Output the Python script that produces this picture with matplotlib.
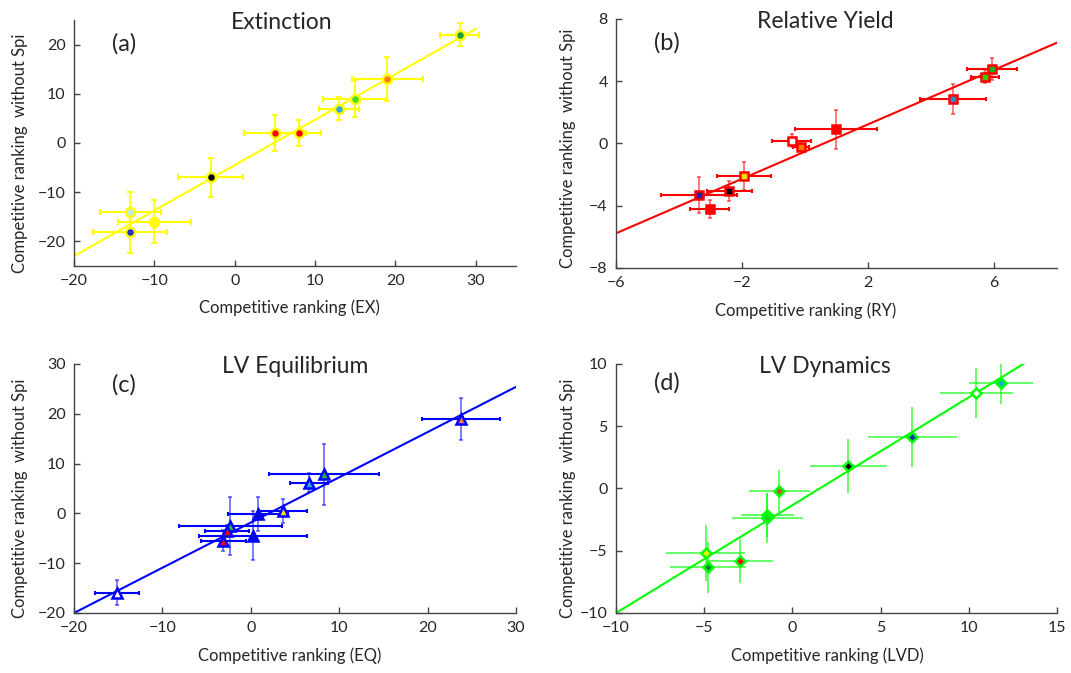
import numpy as np
import matplotlib
matplotlib.use("Agg")
import matplotlib.pyplot as plt

plt.rcParams["font.family"] = ["Lato", "DejaVu Sans"]

TEXT = "#262626"

# -----------------------
# (a) Extinction
# -----------------------
ex_x = [28, 19, 15, 13, 5, 8, -3, -13, -10, -13]
ex_y = [22, 13, 9, 7, 2, 2, -7, -14, -16, -18]
ex_xerr = [2.4, 4.4, 4.0, 2.5, 3.9, 2.7, 4.0, 3.8, 4.5, 4.6]
ex_yerr = [2.3, 4.4, 3.8, 2.4, 3.7, 2.7, 3.9, 4.0, 4.4, 4.3]
ex_species = ["#1a9e3a", "#ff7f00", "#44dd22", "#33aadd", "#ff0000",
              "#ff0000", "#000000", "#bbeedd", "#ffff00", "#2233cc"]
ex_fit = (0.924, -4.5, -20, 30)   # slope, intercept, x from, x to

# -----------------------
# (b) Relative Yield
# -----------------------
ry_x = [5.93, 5.71, 4.69, 0.98, -0.42, -0.13, -1.93, -2.40, -3.36, -3.02]
ry_y = [4.79, 4.29, 2.84, 0.91, 0.18, -0.20, -2.09, -3.05, -3.31, -4.21]
ry_xerr = [0.80, 0.45, 1.04, 1.30, 0.62, 0.25, 0.86, 0.72, 1.20, 0.62]
ry_yerr = [0.70, 0.40, 0.97, 1.25, 0.40, 0.20, 0.88, 0.65, 1.18, 0.60]
ry_species = ["#22aa22", "#33cc00", "#3388cc", "#ff0000", "#ffffff",
              "#ff7700", "#ffdd00", "#000000", "#2222aa", "#ff0000"]
ry_fit = (0.875, -0.52, -6, 8)

# -----------------------
# (c) LV Equilibrium
# -----------------------
eq_x = [23.78, 8.28, 6.58, 3.61, 0.85, -2.3, -2.7, 0.28, -3.1, -15.17]
eq_y = [18.9, 7.85, 6.17, 0.48, -0.2, -2.6, -3.6, -4.5, -5.5, -15.92]
eq_xerr = [4.4, 6.2, 2.2, 2.7, 3.4, 5.8, 2.5, 6.1, 2.55, 2.5]
eq_yerr = [4.2, 6.1, 1.85, 2.5, 3.4, 5.8, 1.2, 4.9, 2.15, 2.5]
eq_species = ["#ee7755", "#22bb22", "#22aaee", "#ffdd00", "#0000cc",
              "#22cc22", "#ff0000", "#0000ff", "#ff0000", "#ffffff"]
eq_fit = (0.908, -1.84, -20, 30)

# -----------------------
# (d) LV Dynamics
# -----------------------
lvd_x = [11.81, 10.41, 6.80, 3.17, -0.74, -1.42, -1.42, -4.92, -4.80, -2.97]
lvd_y = [8.45, 7.65, 4.16, 1.81, -0.20, -2.13, -2.35, -5.20, -6.33, -5.80]
lvd_xerr = [1.8, 2.07, 2.5, 2.2, 1.75, 1.5, 2.0, 2.22, 2.15, 1.85]
lvd_yerr = [1.65, 2.0, 2.4, 2.17, 1.68, 1.75, 2.0, 2.25, 2.03, 1.78]
lvd_species = ["#22aadd", "#ffffff", "#1133aa", "#000000", "#cc5522",
               "#22cc22", "#22cc22", "#ffee00", "#118833", "#ff0000"]
lvd_fit = (0.866, -1.34, -10, 13.1)


def panel(ax, x, y, xerr, yerr, species, fit, color, marker, ms, caps,
          xstyle, ystyle, xlim, ylim, xticks, yticks, title, title_x, tag,
          tag_y, xlabel, xlabel_x, ylabel_y, ylabel_x):
    slope, icpt, x0, x1 = fit
    fx = np.array([x0, x1])
    ax.plot(fx, slope * fx + icpt, color=color, lw=1.5, zorder=2)

    xlw, xalpha = xstyle
    ylw, yalpha = ystyle
    for i in range(len(x)):
        ax.errorbar(x[i], y[i], xerr=xerr[i], fmt="none", ecolor=color,
                    elinewidth=xlw, capsize=caps, capthick=xlw,
                    alpha=xalpha, zorder=3)
        ax.errorbar(x[i], y[i], yerr=yerr[i], fmt="none", ecolor=color,
                    elinewidth=ylw, capsize=caps, capthick=ylw,
                    alpha=yalpha, zorder=3)
        ax.plot(x[i], y[i], marker=marker, ms=ms, mfc=species[i],
                mec=color, mew=1.8, ls="none", zorder=4)

    ax.set_xlim(xlim)
    ax.set_ylim(ylim)
    ax.set_xticks(xticks)
    ax.set_yticks(yticks)
    ax.set_xticklabels([str(t).replace("-", "\u2212") for t in xticks])
    ax.set_yticklabels([str(t).replace("-", "\u2212") for t in yticks])
    for s in ["top", "right"]:
        ax.spines[s].set_visible(False)
    for s in ["left", "bottom"]:
        ax.spines[s].set_color("#444444")
        ax.spines[s].set_linewidth(1.0)
    ax.tick_params(direction="in", length=4, width=1, colors="#444444",
                   labelcolor=TEXT, labelsize=11.5, pad=6)

    ax.text(title_x, 0.965, title, transform=ax.transAxes, ha="center",
            va="baseline", fontsize=16.5, color=TEXT)
    ax.text(0.085, tag_y, tag, transform=ax.transAxes, ha="left",
            va="center", fontsize=17, color=TEXT)
    ax.text(xlabel_x, -0.17, xlabel, transform=ax.transAxes, ha="center",
            va="center", fontsize=12, color=TEXT)
    ax.text(ylabel_x, ylabel_y, "Competitive ranking  without Spi",
            transform=ax.transAxes, ha="center", va="center", rotation=90,
            fontsize=12, color=TEXT)


fig = plt.figure(figsize=(10.71, 6.73), dpi=100)
ax_a = fig.add_axes([0.0691, 0.6048, 0.4127, 0.3655])
ax_b = fig.add_axes([0.5752, 0.6018, 0.4118, 0.3700])
ax_c = fig.add_axes([0.0691, 0.0892, 0.4127, 0.3700])
ax_d = fig.add_axes([0.5752, 0.0892, 0.4118, 0.3700])

panel(ax_a, ex_x, ex_y, ex_xerr, ex_yerr, ex_species, ex_fit, "#ffff00",
      "o", 6.5, 2, (1.5, 1.0), (1.3, 1.0), (-20, 35), (-25, 25),
      [-20, -10, 0, 10, 20, 30], [-20, -10, 0, 10, 20], "Extinction", 0.47,
      "(a)", 0.905, "Competitive ranking (EX)", 0.487, 0.46, -0.122)

panel(ax_b, ry_x, ry_y, ry_xerr, ry_yerr, ry_species, ry_fit, "#ff0000",
      "s", 6, 1.5, (1.5, 1.0), (1.2, 0.6), (-6, 8), (-8, 8), [-6, -2, 2, 6],
      [-8, -4, 0, 4, 8], "Relative Yield", 0.474, "(b)", 0.904,
      "Competitive ranking (RY)", 0.43, 0.48, -0.109)

panel(ax_c, eq_x, eq_y, eq_xerr, eq_yerr, eq_species, eq_fit, "#0000ff",
      "^", 7, 1.5, (1.5, 1.0), (1.2, 0.6), (-20, 30), (-20, 30),
      [-20, -10, 0, 10, 20, 30], [-20, -10, 0, 10, 20, 30],
      "LV Equilibrium", 0.50, "(c)", 0.916, "Competitive ranking (EQ)",
      0.487, 0.46, -0.122)

panel(ax_d, lvd_x, lvd_y, lvd_xerr, lvd_yerr, lvd_species, lvd_fit,
      "#00ff00", "D", 5.5, 0, (1.2, 0.7), (1.2, 0.7), (-10, 15), (-10, 10),
      [-10, -5, 0, 5, 10, 15], [-10, -5, 0, 5, 10], "LV Dynamics", 0.474,
      "(d)", 0.924, "Competitive ranking (LVD)", 0.48, 0.46, -0.109)

fig.savefig("out.png", dpi=100)
